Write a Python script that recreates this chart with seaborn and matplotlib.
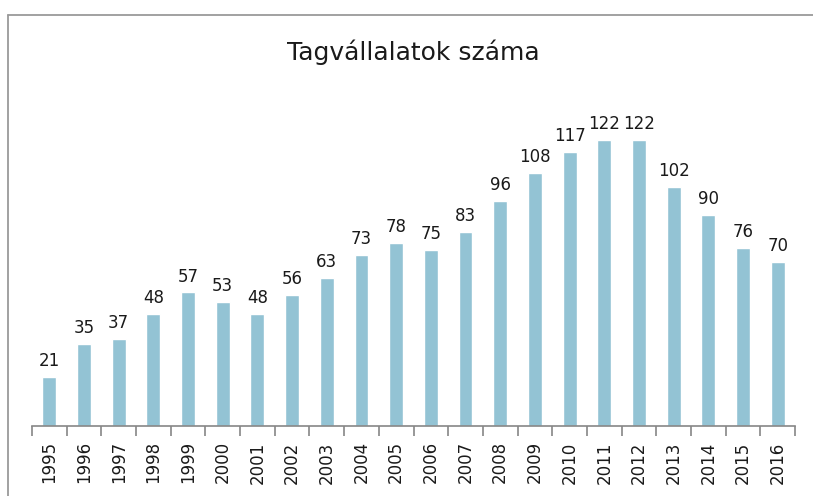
import pandas as pd
import seaborn as sns
import matplotlib.pyplot as plt
from matplotlib.lines import Line2D

evek = [str(y) for y in range(1995, 2017)]
tagvallalatok = [21, 35, 37, 48, 57, 53, 48, 56, 63, 73, 78, 75, 83, 96,
                 108, 117, 122, 122, 102, 90, 76, 70]

data = pd.DataFrame({"Év": evek, "Tagvállalatok": tagvallalatok})

sns.set_style("white")
plt.rcParams['font.family'] = ['DejaVu Sans']

fig = plt.figure(figsize=(8.13, 4.96), dpi=100)
ax = fig.add_axes([32 / 813, 1 - 426 / 496, (795 - 32) / 813, (426 - 98) / 496])

sns.barplot(data=data, x="Év", y="Tagvállalatok", color="#93C3D4",
            saturation=1, width=0.4, ax=ax)
ax.bar_label(ax.containers[0], fontsize=12, padding=5, color="#1a1a1a")

ax.set_xlim(-0.5, len(evek) - 0.5)
ax.set_ylim(0, 140)
ax.set_xlabel("")
ax.set_ylabel("")
ax.set_yticks([])
for s in ["top", "right", "left"]:
    ax.spines[s].set_visible(False)
ax.spines["bottom"].set_color("#868686")
ax.spines["bottom"].set_linewidth(1.2)

ax.set_xticks([i - 0.5 for i in range(len(evek) + 1)], minor=True)
ax.tick_params(axis="x", which="minor", length=7, width=1.2, color="#868686", bottom=True)
ax.tick_params(axis="x", which="major", length=0, pad=11, labelsize=12, labelrotation=90,
               labelcolor="#1a1a1a")

fig.text(0.508, 1 - 52 / 496, "Tagvállalatok száma", ha="center", va="center",
         fontsize=18, color="#1a1a1a")

# keret
fig.add_artist(Line2D([8 / 813, 8 / 813], [-0.05, 1 - 15 / 496], color="#9a9a9a", lw=1.3))
fig.add_artist(Line2D([8 / 813, 1.05], [1 - 15 / 496, 1 - 15 / 496], color="#9a9a9a", lw=1.3))

fig.savefig("out.png", dpi=100)
